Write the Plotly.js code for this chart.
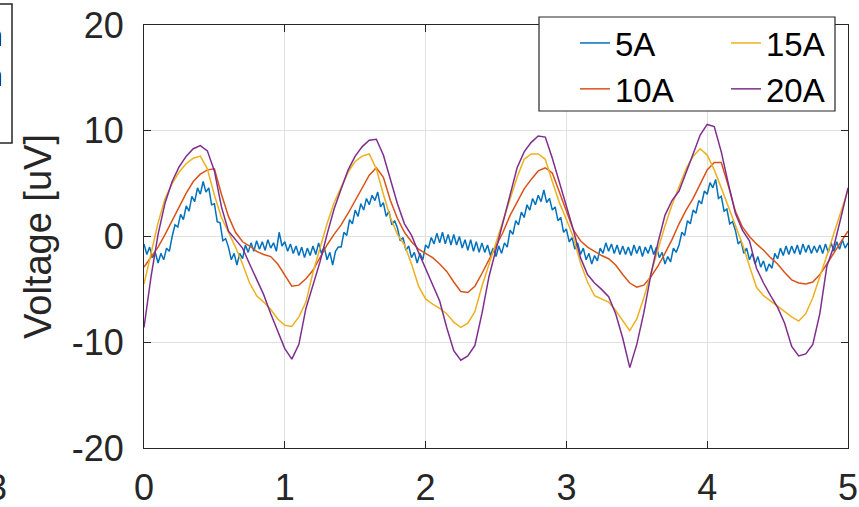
<!DOCTYPE html>
<html><head><meta charset="utf-8">
<script src="https://cdn.plot.ly/plotly-3.0.1.min.js"></script>
<style>html,body{margin:0;padding:0;background:#fff;}#chart{width:859px;height:507px;}</style>
</head><body><div id="chart"></div>
<script>
// ---- data ----
const seriesNames = ['5A', '10A', '15A', '20A'];
const seriesColors = ['#0072BD', '#D95319', '#EDB120', '#7E2F8E'];
const legendGroupOf = ['legend', 'legend', 'legend2', 'legend2'];
const stepBlue = 0.02;   // sampling step of the 5A trace (s)
const stepOther = 0.05;  // sampling step of the other traces (s)

const v5A = [
 -0.7,-1.7,-1.0,-2.0,-1.5,-2.5,-1.6,-2.2,-1.1,-1.4,
  0.0, 1.1, 0.9, 2.1, 1.6, 2.9, 2.4, 3.8, 3.3, 4.6,
  4.0, 5.2, 4.2, 4.6, 3.0, 3.1, 1.4, 1.3,-0.4,-0.2,
 -1.0,-2.2,-1.6,-2.7,-1.6,-2.1,-0.8,-1.5,-0.6,-1.4,
 -0.4,-1.2,-0.5,-1.3,-0.3,-1.1,-0.6,-1.4, 0.4,-0.9,
 -0.5,-1.4,-0.7,-1.6,-0.9,-1.8,-1.0,-2.0,-1.1,-1.8,
 -0.9,-1.7,-0.6,-1.6,-1.0,-2.2,-1.5,-2.7,-1.4,-1.0,
 -1.0, 0.4, 0.1, 1.6, 1.2, 2.5, 1.9, 3.1, 2.5, 3.6,
  3.0, 3.9, 3.4, 4.2, 2.8, 3.2, 1.9, 2.4, 1.1, 1.5,
  0.8,-0.4,-0.1,-1.3,-0.9,-2.0,-1.5,-2.5,-1.6,-2.2,
 -0.8,-1.1,-0.1,-0.7, 0.3,-0.6, 0.4,-0.7, 0.2,-0.8,
  0.2,-0.8, 0.0,-1.1,-0.3,-1.3,-0.3,-1.4,-0.5,-1.5,
 -0.6,-1.5,-0.8,-1.8,-1.1,-1.9,-0.9,-1.6,-0.6,-1.0,
  0.6, 0.2, 1.5, 1.1, 2.3, 1.8, 3.0, 2.5, 3.6, 3.0,
  3.9, 3.3, 4.4, 3.2, 3.6, 2.5, 2.8, 1.5, 1.8, 0.4,
  0.7,-0.5,-0.1,-1.2,-0.6,-1.7,-1.1,-2.2,-1.6,-2.6,
 -1.8,-2.3,-1.1,-1.6,-0.6,-1.4,-0.7,-1.6,-0.8,-1.7,
 -0.9,-1.7,-1.0,-1.8,-0.8,-1.6,-0.9,-1.9,-1.0,-1.6,
 -0.8,-1.7,-1.0,-2.0,-1.5,-2.6,-1.9,-2.4,-1.1,-1.5,
 -0.8, 0.4, 0.1, 1.5, 1.2, 2.5, 2.2, 3.4, 3.1, 4.3,
  4.0, 5.1, 4.6, 5.4, 3.6, 3.8, 2.4, 2.6, 1.2, 1.4,
  0.6,-0.7,-0.4,-1.6,-1.1,-2.2,-1.6,-2.6,-1.9,-2.9,
 -2.3,-3.3,-2.6,-3.0,-1.6,-2.1,-1.1,-1.8,-0.9,-1.7,
 -0.9,-1.6,-0.8,-1.7,-0.7,-1.5,-0.8,-1.6,-0.9,-1.5,
 -0.8,-1.6,-0.7,-1.5,-0.6,-1.4,-0.5,-1.2,-0.3,-1.1,
 -0.6
];

const v10A = [
 -2.9,-2.0,-1.0, 0.2, 1.5, 2.8, 4.1, 5.2, 5.9, 6.3,
  6.4, 4.0, 1.9, 0.4,-0.5,-0.9,-1.4,-1.7,-1.9,-2.6,
 -3.7,-4.7,-4.6,-4.0,-3.2,-2.0,-0.8, 0.2, 1.1, 2.2,
  3.4, 4.5, 5.8, 6.5, 5.6, 3.4, 1.7, 0.4,-0.5,-1.2,
 -1.6,-2.0,-2.6,-3.3,-4.3,-5.2,-5.3,-4.7,-3.5,-2.2,
 -0.9, 0.4, 2.0, 3.3, 4.5, 5.4, 6.2, 6.5, 6.0, 4.2,
  2.3, 0.6,-0.4,-1.0,-1.4,-1.8,-2.1,-2.7,-3.6,-4.4,
 -4.8,-4.6,-3.8,-2.8,-1.6,-0.3, 1.2, 2.5, 3.6, 5.0,
  6.3, 7.0, 7.0, 4.8, 2.4, 0.9, 0.0,-0.7,-1.3,-2.0,
 -2.6,-3.4,-4.1,-4.4,-4.5,-4.3,-3.6,-2.6,-1.5,-0.5,
  0.5
];

const v15A = [
 -4.5,-1.6, 1.3, 3.6, 5.0, 6.1, 6.9, 7.4, 7.6, 6.4,
  3.9, 1.8, 0.4,-1.0,-2.6,-4.4,-5.6,-6.2,-6.9,-7.8,
 -8.4,-8.5,-7.6,-6.2,-3.4,-1.0, 1.2, 3.2, 4.7, 6.1,
  7.1, 7.6, 7.8, 6.4, 4.0, 1.8, 0.2,-0.8,-2.6,-4.7,
 -5.9,-6.4,-6.8,-7.3,-8.1,-8.6,-8.2,-7.1,-4.7,-2.6,
 -0.6, 1.5, 3.6, 5.6, 7.3, 7.8, 7.8, 7.3, 5.2, 3.2,
  1.6,-0.1,-2.5,-4.3,-5.6,-5.9,-6.2,-7.0,-7.9,-8.9,
 -7.8,-5.8,-3.5,-1.2, 1.0, 3.0, 4.8, 6.4, 7.6, 8.3,
  7.7, 6.3, 4.6, 2.8, 1.2,-0.7,-2.8,-4.8,-5.6,-6.1,
 -6.6,-7.1,-7.6,-8.0,-7.3,-5.8,-3.9,-1.8, 0.3, 2.3,
  4.4
];

const v20A = [
 -8.6,-3.8, 0.2, 3.2, 5.2, 6.6, 7.6, 8.3, 8.6, 8.1,
  6.2, 2.8, 0.5,-0.3,-1.1,-2.6,-4.0,-5.5,-7.3,-9.0,
-10.6,-11.6,-10.2,-6.8,-4.6,-2.4, 0.2, 2.6, 4.5, 6.3,
  7.6, 8.5, 9.1, 9.2, 7.7, 5.3, 3.1, 1.2, 0.1,-1.5,
 -3.0,-4.5,-6.1,-8.6,-10.8,-11.7,-11.3,-10.3,-7.3,-3.8,
 -1.2, 1.3, 3.8, 6.5, 8.0, 8.9, 9.5, 9.4, 7.4, 5.2,
  2.8, 0.6,-2.0,-3.6,-4.4,-5.0,-5.7,-7.3,-9.6,-12.4,
-10.2,-7.2,-3.6,-0.6, 2.0, 3.4, 4.3, 6.0, 7.8, 9.6,
 10.6,10.4, 8.0, 5.0, 2.2, 0.6,-0.4,-3.0,-4.4,-5.6,
 -6.7,-8.2,-10.4,-11.3,-11.1,-10.2,-7.3,-2.8,-0.9, 1.8,
  4.6
];

const xTickVals = [0, 1, 2, 3, 4, 5];
const xTickText = ['0', '1', '2', '3', '4', '5'];
const yTickVals = [-20, -10, 0, 10, 20];
const yTickText = ['-20', '-10', '0', '10', '20'];
const yLabel = 'Voltage [uV]';

// ---- build ----
const seriesValues = [v5A, v10A, v15A, v20A];
const seriesSteps = [stepBlue, stepOther, stepOther, stepOther];
const FONT = '"Liberation Sans", Arial, Helvetica, sans-serif';
const INK = '#262626';

const traces = seriesValues.map((vals, k) => ({
  type: 'scatter', mode: 'lines', name: seriesNames[k],
  x: vals.map((_, i) => +(i * seriesSteps[k]).toFixed(4)),
  y: vals,
  line: {color: seriesColors[k], width: 1.5},
  legend: legendGroupOf[k],
  hoverinfo: 'skip'
}));

const axisCommon = {
  showline: true, linecolor: INK, linewidth: 1, mirror: 'ticks',
  ticks: 'inside', ticklen: 7, tickcolor: INK, tickwidth: 1,
  showgrid: true, gridcolor: '#e0e0e0', gridwidth: 1,
  zeroline: false, tickfont: {family: FONT, size: 36, color: INK},
  fixedrange: true
};

const px2x = p => (p - 144) / 704;
const px2y = p => (448 - p) / 423;

const legendCommon = {
  orientation: 'v', yanchor: 'top', xanchor: 'left', y: px2y(15),
  bgcolor: 'rgba(0,0,0,0)', borderwidth: 0,
  font: {family: FONT, size: 33, color: '#000000'},
  itemwidth: 30, traceorder: 'normal', tracegroupgap: 0
};

const layout = {
  width: 859, height: 507,
  margin: {l: 144, r: 11, t: 25, b: 59, pad: 0},
  paper_bgcolor: '#ffffff', plot_bgcolor: '#ffffff',
  font: {family: FONT, color: INK},
  showlegend: true,
  xaxis: Object.assign({}, axisCommon, {
    range: [0, 5], tickmode: 'array', tickvals: xTickVals, ticktext: xTickText,
    ticklabelstandoff: 8, automargin: false
  }),
  yaxis: Object.assign({}, axisCommon, {
    range: [-20, 20], tickmode: 'array', tickvals: yTickVals, ticktext: yTickText,
    ticklabelstandoff: 12, automargin: false,
    title: {text: yLabel, font: {family: FONT, size: 38, color: INK}, standoff: 8}
  }),
  legend: Object.assign({}, legendCommon, {x: px2x(575)}),
  legend2: Object.assign({}, legendCommon, {x: px2x(726)}),
  shapes: [
    {type: 'rect', xref: 'paper', yref: 'paper', layer: 'above',
     x0: px2x(539), x1: px2x(835), y0: px2y(111), y1: px2y(17),
     line: {color: INK, width: 1.2}, fillcolor: '#ffffff'},
    {type: 'rect', xref: 'paper', yref: 'paper',
     x0: px2x(-30), x1: px2x(12), y0: px2y(143), y1: px2y(4),
     line: {color: INK, width: 1.5}, fillcolor: 'rgba(0,0,0,0)'}
  ],
  annotations: [
    {xref: 'paper', yref: 'paper', x: px2x(9), y: px2y(488),
     xanchor: 'right', yanchor: 'middle', text: '3', showarrow: false,
     font: {family: FONT, size: 36, color: INK}},
    {xref: 'paper', yref: 'paper', x: px2x(5), y: px2y(35),
     xanchor: 'right', yanchor: 'middle', text: 'n', showarrow: false,
     font: {family: FONT, size: 30, color: '#000'}},
    {xref: 'paper', yref: 'paper', x: px2x(5), y: px2y(76),
     xanchor: 'right', yanchor: 'middle', text: 'n', showarrow: false,
     font: {family: FONT, size: 30, color: '#000'}}
  ]
};

Plotly.newPlot('chart', traces, layout, {displayModeBar: false, staticPlot: true});
</script>
</body></html>
